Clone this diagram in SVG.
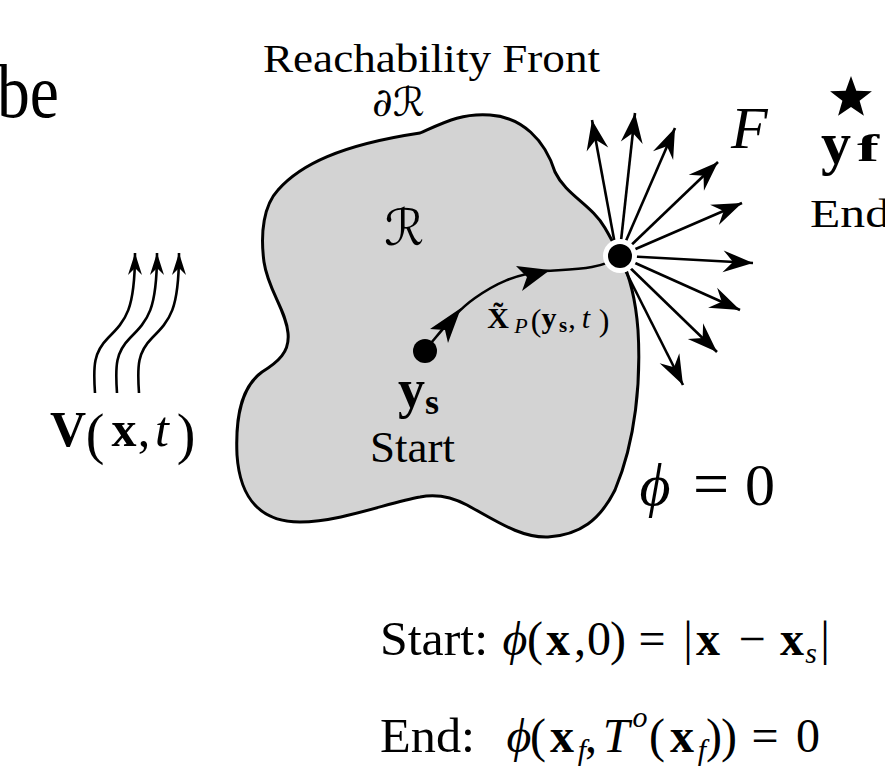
<svg xmlns="http://www.w3.org/2000/svg" width="885" height="768" viewBox="0 0 885 768">
<style>
.t{font-family:"Liberation Serif","DejaVu Serif",serif;fill:#000}
.i{font-style:italic}
.b{font-weight:bold}
.cal{font-family:"DejaVu Serif","DejaVu Sans",serif;font-style:italic;fill:#000}
.m{text-anchor:middle}
.ln{fill:none;stroke:#000;stroke-width:2.6}
.blob{fill:#d3d3d3;stroke:#000;stroke-width:3;stroke-linejoin:round}
</style>
<defs>
<marker id="ah" markerUnits="userSpaceOnUse" markerWidth="36" markerHeight="26" viewBox="-32 -13 34 26" refX="0" refY="0" orient="auto">
<path d="M0,0 L-30,-11 L-20,0 L-30,11 Z" fill="#000"/>
</marker>
<marker id="ahs" markerUnits="userSpaceOnUse" markerWidth="26" markerHeight="18" viewBox="-24 -9 26 18" refX="0" refY="0" orient="auto">
<path d="M0,0 L-22,-7 L-15,0 L-22,7 Z" fill="#000"/>
</marker>
</defs>
<rect width="885" height="768" fill="#fff"/>

<text class="t" x="-3" y="117" font-size="76" textLength="62" lengthAdjust="spacingAndGlyphs">be</text>

<g id="front-label">
<text class="t" x="263" y="72" font-size="40" textLength="337" lengthAdjust="spacingAndGlyphs">Reachability Front</text>
<text class="cal" x="372" y="116" font-size="40">∂ℛ</text>
</g>

<g id="region">
<path class="blob" d="M420,133 C445,122 462,113 490,115 C522,117 545,140 555,172 C566,195 592,205 605,228 C612,240 616,248 620,256 C627,270 635,290 638,330 C641,380 636,440 615,490 C600,520 580,535 548,537 C520,538 495,520 467,505 C450,496 435,494 420,497 C390,502 340,522 300,522 C262,522 240,500 237,455 C235,410 244,385 262,372 C278,362 290,352 288,333 C286,310 268,290 264,262 C260,232 264,205 278,190 C300,165 340,145 420,133 Z"/>
<text class="cal" x="384" y="245" font-size="50">ℛ</text>
</g>

<g id="connectors">
<path class="ln" d="M425,350 C440,333 455,312 475,298 C495,284 515,274 545,271 C575,269 600,270 620,256"/>
<polygon points="461,308 448,343 445,330 430,329" fill="#000"/>
<polygon points="550,270 522,291 527,277 516,266" fill="#000"/>
<g class="ln" marker-end="url(#ah)">
<line x1="616" y1="250" x2="592" y2="120"/>
<line x1="620" y1="250" x2="635" y2="113"/>
<line x1="622" y1="250" x2="675" y2="128"/>
<line x1="624" y1="252" x2="718" y2="162"/>
<line x1="624" y1="254" x2="742" y2="203"/>
<line x1="624" y1="256" x2="753" y2="263"/>
<line x1="624" y1="258" x2="740" y2="310"/>
<line x1="622" y1="260" x2="717" y2="352"/>
<line x1="620" y1="260" x2="683" y2="385"/>
</g>
<g class="ln" stroke-width="2" marker-end="url(#ahs)">
<path d="M95,393 C93,365 94,352 108,338 C126,320 135,310 135,253"/>
<path d="M117,393 C115,365 116,352 130,338 C148,320 157,310 157,253"/>
<path d="M139,393 C137,365 138,352 152,338 C170,320 179,310 179,253"/>
</g>
</g>

<g id="front-point">
<circle cx="620" cy="256" r="17" fill="#fff"/>
<circle cx="620" cy="256" r="12" fill="#000"/>
</g>

<g id="start">
<circle cx="425" cy="351" r="12" fill="#000"/>
<text class="t b" x="398" y="407" font-size="54">y<tspan font-size="36" dy="7">s</tspan></text>
<text class="t" x="370" y="462" font-size="44" textLength="85" lengthAdjust="spacingAndGlyphs">Start</text>
</g>

<g id="path-label" class="t">
<text class="b m" x="498" y="328" font-size="30">X̃</text>
<text class="i m" x="521" y="333" font-size="22">P</text>
<text class="m" x="536" y="331" font-size="32">(</text>
<text class="b m" x="549" y="328" font-size="30">y</text>
<text class="b m" x="563" y="332" font-size="21">s</text>
<text class="m" x="572" y="328" font-size="30">,</text>
<text class="i m" x="586" y="328" font-size="30">t</text>
<text class="m" x="604" y="331" font-size="32">)</text>
</g>

<g id="end">
<polygon points="851,76 856.3,90.7 871.9,91.2 859.6,100.8 863.9,115.8 851,107 838.1,115.8 842.4,100.8 830.1,91.2 845.7,90.7" fill="#000"/>
<text class="t b" x="821" y="163" font-size="60">y</text>
<text class="t b" x="857" y="161" font-size="38" textLength="22" lengthAdjust="spacingAndGlyphs">f</text>
<text class="t" x="810" y="227" font-size="40" textLength="80" lengthAdjust="spacingAndGlyphs">End</text>
</g>

<text class="t i" x="731" y="148" font-size="60">F</text>

<g id="wind-label" class="t">
<text class="b m" x="68" y="446" font-size="50">V</text>
<text class="m" x="95" y="453" font-size="56">(</text>
<text class="b m" x="124" y="446" font-size="50">x</text>
<text class="m" x="144" y="446" font-size="50">,</text>
<text class="i m" x="162" y="446" font-size="50">t</text>
<text class="m" x="186" y="453" font-size="56">)</text>
</g>

<g id="phi-label" class="t">
<text class="i m" x="655" y="505" font-size="60">ϕ</text>
<text class="m" x="711" y="505" font-size="64">=</text>
<text class="m" x="760" y="505" font-size="60">0</text>
</g>

<g id="eq-start" class="t" font-size="48">
<text x="380" y="655" textLength="108" lengthAdjust="spacingAndGlyphs">Start:</text>
<text class="i m" x="515" y="655">ϕ</text>
<text class="m" x="535" y="655">(</text>
<text class="b m" x="558" y="655">x</text>
<text class="m" x="580" y="655">,</text>
<text class="m" x="599" y="655">0</text>
<text class="m" x="618" y="655">)</text>
<text class="m" x="652" y="655">=</text>
<text class="m" x="688" y="655">|</text>
<text class="b m" x="708" y="655">x</text>
<text class="m" x="752" y="655">−</text>
<text class="b m" x="792" y="655">x</text>
<text class="i m" x="811" y="663" font-size="30">s</text>
<text class="m" x="825" y="655">|</text>
</g>

<g id="eq-end" class="t" font-size="48">
<text x="380" y="752" textLength="95" lengthAdjust="spacingAndGlyphs">End:</text>
<text class="i m" x="519" y="752">ϕ</text>
<text class="m" x="538" y="752">(</text>
<text class="b m" x="562" y="752">x</text>
<text class="i m" x="582" y="760" font-size="30">f</text>
<text class="m" x="591" y="752">,</text>
<text class="i m" x="616" y="752">T</text>
<text class="i m" x="640" y="727" font-size="30">o</text>
<text class="m" x="657" y="752">(</text>
<text class="b m" x="682" y="752">x</text>
<text class="i m" x="702" y="760" font-size="30">f</text>
<text class="m" x="714" y="752">)</text>
<text class="m" x="729" y="752">)</text>
<text class="m" x="765" y="752">=</text>
<text class="m" x="808" y="752">0</text>
</g>
</svg>
